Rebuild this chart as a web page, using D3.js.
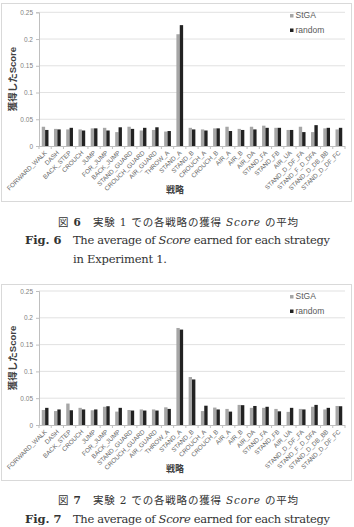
<!DOCTYPE html>
<html>
<head>
<meta charset="utf-8">
<script src="https://cdn.jsdelivr.net/npm/d3@7"></script>
<style>
  body { margin: 0; background: #fff; }
  svg { display: block; }
</style>
</head>
<body>
<svg width="354" height="527"></svg>
<script>
const categories = [
  'FORWARD_WALK', 'DASH', 'BACK_STEP', 'CROUCH', 'JUMP', 'FOR_JUMP', 'BACK_JUMP',
  'STAND_GUARD', 'CROUCH_GUARD', 'AIR_GUARD', 'THROW_A', 'STAND_A', 'STAND_B',
  'CROUCH_A', 'CROUCH_B', 'AIR_A', 'AIR_B', 'AIR_DA', 'STAND_FA', 'STAND_FB',
  'AIR_UA', 'STAND_D_DF_FA', 'STAND_F_D_DFA', 'STAND_D_DB_BB', 'STAND_D_DF_FC',
];
const seriesNames = ['StGA', 'random'];
const yTicks = [0, 0.05, 0.1, 0.15, 0.2, 0.25];

// experiment 1
const exp1StGA = [0.036, 0.032, 0.031, 0.031, 0.033, 0.034, 0.026, 0.036, 0.029, 0.030, 0.027, 0.209, 0.034,
  0.031, 0.033, 0.036, 0.032, 0.036, 0.038, 0.034, 0.030, 0.036, 0.026, 0.033, 0.031];
const exp1Random = [0.030, 0.031, 0.034, 0.029, 0.033, 0.029, 0.035, 0.032, 0.034, 0.035, 0.028, 0.226, 0.031,
  0.029, 0.033, 0.028, 0.030, 0.031, 0.034, 0.034, 0.030, 0.026, 0.039, 0.034, 0.034];

// experiment 2
const exp2StGA = [0.028, 0.026, 0.040, 0.032, 0.0275, 0.034, 0.025, 0.028, 0.029, 0.029, 0.033, 0.181, 0.0895,
  0.026, 0.0325, 0.030, 0.0375, 0.032, 0.032, 0.030, 0.0245, 0.030, 0.034, 0.029, 0.0355];
const exp2Random = [0.032, 0.029, 0.0275, 0.029, 0.029, 0.035, 0.032, 0.027, 0.027, 0.027, 0.030, 0.178, 0.085,
  0.036, 0.029, 0.025, 0.037, 0.0355, 0.034, 0.0255, 0.032, 0.029, 0.0375, 0.032, 0.035];

const svg = d3.select('svg');
const colors = { StGA: '#a6a6a6', random: '#222222' };
const chartFont = '"Liberation Sans", "Noto Sans CJK JP", sans-serif';
const capFont = '"DejaVu Serif", "Liberation Serif", "Noto Sans CJK JP", serif';
const plotLeft = 39;
const plotRight = 345;

function drawChart(frameTop, frameHeight, plotTop, plotBottom, stga, random) {
  const g = svg.append('g');

  g.append('rect')
    .attr('x', 1.5).attr('y', frameTop + 0.5)
    .attr('width', 350).attr('height', frameHeight)
    .attr('fill', '#fff')
    .attr('stroke', '#d9d9d9');

  const x0 = d3.scaleBand(categories, [plotLeft, plotRight])
    .paddingInner(0.45)
    .paddingOuter(0.225);
  const x1 = d3.scaleBand(seriesNames, [0, x0.bandwidth()]);
  const y = d3.scaleLinear([0, 0.25], [plotBottom, plotTop]);

  // gridlines
  g.selectAll('.grid')
    .data(yTicks.slice(1))
    .join('line')
      .attr('x1', plotLeft).attr('x2', plotRight)
      .attr('y1', (d) => y(d)).attr('y2', (d) => y(d))
      .attr('stroke', '#d9d9d9')
      .attr('stroke-width', 0.8);

  const yAxis = d3.axisLeft(y).tickValues(yTicks).tickSize(3).tickFormat((d) => String(d));
  const ya = g.append('g')
    .attr('transform', `translate(${plotLeft}, 0)`)
    .call(yAxis);
  ya.select('.domain').attr('stroke', '#bfbfbf');
  ya.selectAll('.tick line').attr('stroke', '#bfbfbf');
  ya.selectAll('.tick text')
    .attr('x', -6)
    .attr('fill', '#7f7f7f')
    .style('font-family', chartFont)
    .style('font-size', '6.5px');

  const rows = categories.map((c, i) => ({ cat: c, StGA: stga[i], random: random[i] }));
  g.selectAll('.grp')
    .data(rows)
    .join('g')
      .attr('transform', (d) => `translate(${x0(d.cat)}, 0)`)
    .selectAll('rect')
    .data((d) => seriesNames.map((s) => ({ s, v: d[s] })))
    .join('rect')
      .attr('x', (d) => x1(d.s))
      .attr('y', (d) => y(d.v))
      .attr('width', x1.bandwidth())
      .attr('height', (d) => plotBottom - y(d.v))
      .attr('fill', (d) => colors[d.s]);

  // x axis line + ticks between categories
  g.append('line')
    .attr('x1', plotLeft).attr('x2', plotRight)
    .attr('y1', plotBottom + 0.5).attr('y2', plotBottom + 0.5)
    .attr('stroke', '#bfbfbf');
  const step = x0.step();
  const bounds = d3.range(categories.length + 1).map((i) => x0(categories[0]) - step * 0.225 + i * step);
  g.selectAll('.xtick')
    .data(bounds)
    .join('line')
      .attr('x1', (d) => d).attr('x2', (d) => d)
      .attr('y1', plotBottom).attr('y2', plotBottom + 3)
      .attr('stroke', '#bfbfbf');

  g.selectAll('.xlab')
    .data(categories)
    .join('text')
      .text((d) => d)
      .attr('transform', (d) => `translate(${x0(d) + x0.bandwidth() / 2 + 1}, ${plotBottom + 6}) rotate(-45)`)
      .attr('text-anchor', 'end')
      .attr('dominant-baseline', 'middle')
      .attr('fill', '#666')
      .style('font-family', chartFont)
      .style('font-size', '6.3px');

  g.append('text')
    .text('戦略')
    .attr('x', 175).attr('y', plotBottom + 47)
    .attr('text-anchor', 'middle')
    .attr('fill', '#404040')
    .style('font-family', chartFont)
    .style('font-weight', 'bold')
    .style('font-size', '9px');

  g.append('text')
    .text('獲得したScore')
    .attr('transform', `translate(13, ${(plotTop + plotBottom) / 2}) rotate(-90)`)
    .attr('text-anchor', 'middle')
    .attr('dominant-baseline', 'middle')
    .attr('fill', '#404040')
    .style('font-family', chartFont)
    .style('font-weight', 'bold')
    .style('font-size', '9.5px');

  // legend
  seriesNames.forEach((s, i) => {
    const ly = frameTop + 13 + i * 14.5;
    g.append('rect')
      .attr('x', 290).attr('y', ly - 2)
      .attr('width', 3.5).attr('height', 3.5)
      .attr('fill', colors[s]);
    g.append('text')
      .text(s)
      .attr('x', 295.5).attr('y', ly)
      .attr('dominant-baseline', 'middle')
      .attr('fill', '#595959')
      .style('font-family', chartFont)
      .style('font-size', '8.5px');
  });
}

function drawCaption(num, exp, top, secondLine) {
  const jp = svg.append('text')
    .attr('x', 58).attr('y', top)
    .attr('textLength', 240)
    .attr('lengthAdjust', 'spacing')
    .attr('fill', '#333')
    .style('font-family', capFont)
    .style('font-size', '10.5px');
  jp.append('tspan').text('図 ');
  jp.append('tspan').text(num).style('font-weight', 'bold');
  jp.append('tspan').text(`　実験 ${exp} での各戦略の獲得 `);
  jp.append('tspan').text('Score').style('font-style', 'italic');
  jp.append('tspan').text(' の平均');

  svg.append('text')
    .text(`Fig. ${num}`)
    .attr('x', 25).attr('y', top + 18.5)
    .attr('fill', '#333')
    .style('font-family', capFont)
    .style('font-weight', 'bold')
    .style('font-size', '11.5px');

  const en = svg.append('text')
    .attr('x', 73).attr('y', top + 18.5)
    .attr('textLength', 257)
    .attr('lengthAdjust', 'spacing')
    .attr('fill', '#333')
    .style('font-family', capFont)
    .style('font-size', '11.5px');
  en.append('tspan').text('The average of ');
  en.append('tspan').text('Score').style('font-style', 'italic');
  en.append('tspan').text(' earned for each strategy');

  if (secondLine) {
    svg.append('text')
      .text(`in Experiment ${exp}.`)
      .attr('x', 73).attr('y', top + 37)
      .attr('textLength', 94)
      .attr('lengthAdjust', 'spacing')
      .attr('fill', '#333')
      .style('font-family', capFont)
      .style('font-size', '11.5px');
  }
}

drawChart(3, 198, 12.3, 146, exp1StGA, exp1Random);
drawCaption('6', '1', 225.5, true);
drawChart(284, 196, 291, 425, exp2StGA, exp2Random);
drawCaption('7', '2', 504, false);
</script>
</body>
</html>
